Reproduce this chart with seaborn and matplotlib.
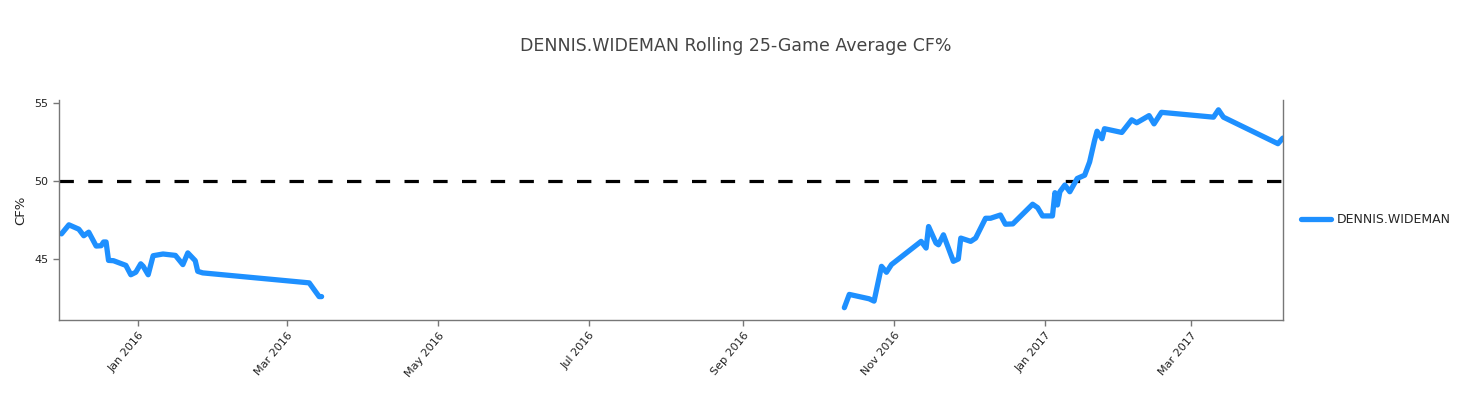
import pandas as pd
import numpy as np
import matplotlib
matplotlib.use('Agg')
import matplotlib.pyplot as plt
import matplotlib.dates as mdates
import seaborn as sns

player = 'DENNIS.WIDEMAN'

# season 2015-16 (rolling 25-game CF%)
dates_1 = ['2015-12-01', '2015-12-04', '2015-12-08', '2015-12-10', '2015-12-12',
           '2015-12-15', '2015-12-17', '2015-12-18', '2015-12-19', '2015-12-20',
           '2015-12-22', '2015-12-27', '2015-12-29', '2015-12-31', '2016-01-02',
           '2016-01-03', '2016-01-05', '2016-01-07', '2016-01-11', '2016-01-16',
           '2016-01-19', '2016-01-21', '2016-01-24', '2016-01-25', '2016-01-27',
           '2016-03-10', '2016-03-14', '2016-03-15']
cf_1 = [46.62, 47.2, 46.92, 46.5, 46.73, 45.84, 45.86, 46.1, 46.1, 44.92,
        44.9, 44.6, 44.0, 44.16, 44.7, 44.54, 44.0, 45.22, 45.33, 45.24,
        44.65, 45.4, 44.9, 44.22, 44.12, 43.48, 42.6, 42.6]

# season 2016-17
dates_2 = ['2016-10-12', '2016-10-14', '2016-10-22', '2016-10-24', '2016-10-27',
           '2016-10-29', '2016-10-31', '2016-11-12', '2016-11-14', '2016-11-15',
           '2016-11-18', '2016-11-19', '2016-11-21', '2016-11-25', '2016-11-27',
           '2016-11-28', '2016-12-02', '2016-12-04', '2016-12-08', '2016-12-10',
           '2016-12-14', '2016-12-16', '2016-12-19', '2016-12-27', '2016-12-29',
           '2016-12-31', '2017-01-04', '2017-01-05', '2017-01-06', '2017-01-07',
           '2017-01-09', '2017-01-11', '2017-01-14', '2017-01-17', '2017-01-19',
           '2017-01-21', '2017-01-22', '2017-01-24', '2017-01-25', '2017-02-01',
           '2017-02-05', '2017-02-07', '2017-02-12', '2017-02-14', '2017-02-17',
           '2017-03-10', '2017-03-12', '2017-03-14', '2017-04-05', '2017-04-07']
cf_2 = [41.89, 42.74, 42.46, 42.31, 44.54, 44.16, 44.65, 46.14, 45.71, 47.09,
        46.03, 45.92, 46.56, 44.86, 45.01, 46.35, 46.14, 46.35, 47.62, 47.62,
        47.83, 47.24, 47.26, 48.52, 48.3, 47.77, 47.77, 49.26, 48.47, 49.32,
        49.75, 49.32, 50.17, 50.38, 51.23, 52.61, 53.2, 52.72, 53.36, 53.12,
        53.93, 53.74, 54.2, 53.67, 54.41, 54.1, 54.57, 54.1, 52.4, 52.76]

df = pd.DataFrame({
    'Date': pd.to_datetime(dates_1 + dates_2),
    'CF%': cf_1 + cf_2,
    'Player': player,
    'segment': [1] * len(dates_1) + [2] * len(dates_2),
})

sns.set_style('white')
fig = plt.figure(figsize=(14.71, 4), dpi=100)
ax = fig.add_axes([0.0401, 0.2, 0.832, 0.55])

sns.lineplot(data=df, x='Date', y='CF%', hue='Player', units='segment',
             estimator=None, palette=['#1E90FF'], linewidth=3.8, ax=ax)

# 50% reference line
ax.axhline(50, color='black', linewidth=2.3, linestyle=(0, (4.5, 4.5)), zorder=1)

ax.set_xlim(pd.Timestamp('2015-11-30'), pd.Timestamp('2017-04-07'))
ax.set_ylim(41.1, 55.2)
ax.set_yticks([45, 50, 55])
ax.xaxis.set_major_locator(mdates.MonthLocator(bymonth=[1, 3, 5, 7, 9, 11]))
ax.xaxis.set_major_formatter(mdates.DateFormatter('%b %Y'))
plt.setp(ax.get_xticklabels(), rotation=50, ha='right', rotation_mode='anchor')

ax.tick_params(axis='both', which='major', direction='out', length=4, width=1,
               color='#777777', labelsize=8, labelcolor='#222222', bottom=True, left=True)
ax.set_xlabel('')
ax.set_ylabel('CF%', fontsize=9.5, color='#222222', labelpad=5)

for side in ['left', 'bottom', 'right']:
    ax.spines[side].set_color('#777777')
    ax.spines[side].set_linewidth(1)
ax.spines['top'].set_visible(False)

ax.legend(loc='center left', bbox_to_anchor=(1.006, 0.455), frameon=False,
          fontsize=9, handlelength=2.4, handletextpad=0.4, title=None)

fig.text(0.5, 0.885, 'DENNIS.WIDEMAN Rolling 25-Game Average CF%', ha='center',
         va='center', fontsize=12.5, color='#444444')

fig.savefig('out.png', dpi=100)
